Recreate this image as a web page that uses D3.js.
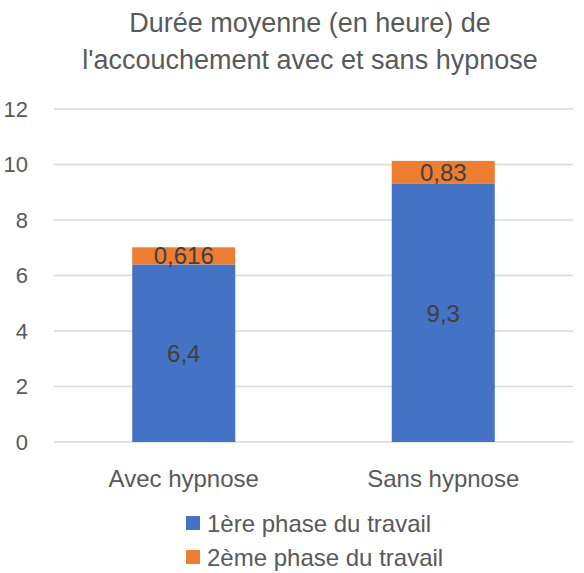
<!DOCTYPE html>
<html>
<head>
<meta charset="utf-8">
<script src="https://cdn.jsdelivr.net/npm/d3@7"></script>
<style>
  body { margin: 0; background: #fff; }
  text { font-family: "Liberation Sans", Arial, sans-serif; }
</style>
</head>
<body>
<div id="chart"></div>
<script>
var categories = ["Avec hypnose", "Sans hypnose"];
var phase1 = [6.4, 9.3];
var phase2 = [0.616, 0.83];
var seriesNames = ["1ère phase du travail", "2ème phase du travail"];
var yTicks = [0, 2, 4, 6, 8, 10, 12];
var titleLines = ["Durée moyenne (en heure) de", "l'accouchement avec et sans hypnose"];

var width = 584, height = 573;
var colors = ["#4472C4", "#ED7D31"];

// french decimal comma
function fr(v) { return String(v).replace(".", ","); }

var svg = d3.select("#chart").append("svg")
  .attr("width", width)
  .attr("height", height);

var x = d3.scaleBand()
  .domain(categories)
  .range([54, 573])
  .paddingInner(0.603)
  .paddingOuter(0.3015);

var y = d3.scaleLinear()
  .domain([0, 12])
  .range([442, 109]);

// title
svg.append("g").selectAll("text")
  .data(titleLines)
  .enter().append("text")
    .attr("x", 310)
    .attr("y", function(d, i) { return 31.5 + i * 37; })
    .attr("text-anchor", "middle")
    .attr("fill", "#595959")
    .style("font-size", "27px")
    .text(function(d) { return d; });

// gridlines
svg.append("g").selectAll("line")
  .data(yTicks)
  .enter().append("line")
    .attr("x1", 54)
    .attr("x2", 573)
    .attr("y1", function(d) { return y(d); })
    .attr("y2", function(d) { return y(d); })
    .attr("stroke", "#D9D9D9")
    .attr("stroke-width", 1.5);

// y labels
svg.append("g").selectAll("text")
  .data(yTicks)
  .enter().append("text")
    .attr("x", 28)
    .attr("y", function(d) { return y(d); })
    .attr("dy", "0.36em")
    .attr("text-anchor", "end")
    .attr("fill", "#595959")
    .style("font-size", "22px")
    .text(function(d) { return d; });

// stacked data
var rows = categories.map(function(c, i) {
  return { cat: c, p1: phase1[i], p2: phase2[i] };
});
var stack = d3.stack().keys(["p1", "p2"]);
var layers = stack(rows);

var layer = svg.append("g").selectAll("g")
  .data(layers)
  .enter().append("g")
    .attr("fill", function(d, i) { return colors[i]; });

layer.selectAll("rect")
  .data(function(d) { return d; })
  .enter().append("rect")
    .attr("x", function(d) { return x(d.data.cat); })
    .attr("width", x.bandwidth())
    .attr("y", function(d) { return y(d[1]); })
    .attr("height", function(d) { return y(d[0]) - y(d[1]); });

layer.selectAll("text")
  .data(function(d) { return d.map(function(p) { p.key = d.key; return p; }); })
  .enter().append("text")
    .attr("x", function(d) { return x(d.data.cat) + x.bandwidth() / 2; })
    .attr("y", function(d) { return (y(d[0]) + y(d[1])) / 2; })
    .attr("dy", "0.36em")
    .attr("text-anchor", "middle")
    .attr("fill", "#404040")
    .style("font-size", "24px")
    .text(function(d) { return fr(d.data[d.key]); });

// category labels
svg.append("g").selectAll("text")
  .data(categories)
  .enter().append("text")
    .attr("x", function(d) { return x(d) + x.bandwidth() / 2; })
    .attr("y", 487)
    .attr("text-anchor", "middle")
    .attr("fill", "#595959")
    .style("font-size", "24px")
    .text(function(d) { return d; });

// legend
var legend = svg.append("g").selectAll("g")
  .data(seriesNames)
  .enter().append("g")
    .attr("transform", function(d, i) { return "translate(186," + (516 + i * 34) + ")"; });

legend.append("rect")
  .attr("width", 14)
  .attr("height", 14)
  .attr("fill", function(d, i) { return colors[i]; });

legend.append("text")
  .attr("x", 21)
  .attr("y", 7)
  .attr("dy", "0.36em")
  .attr("fill", "#595959")
  .style("font-size", "24px")
  .text(function(d) { return d; });
</script>
</body>
</html>
